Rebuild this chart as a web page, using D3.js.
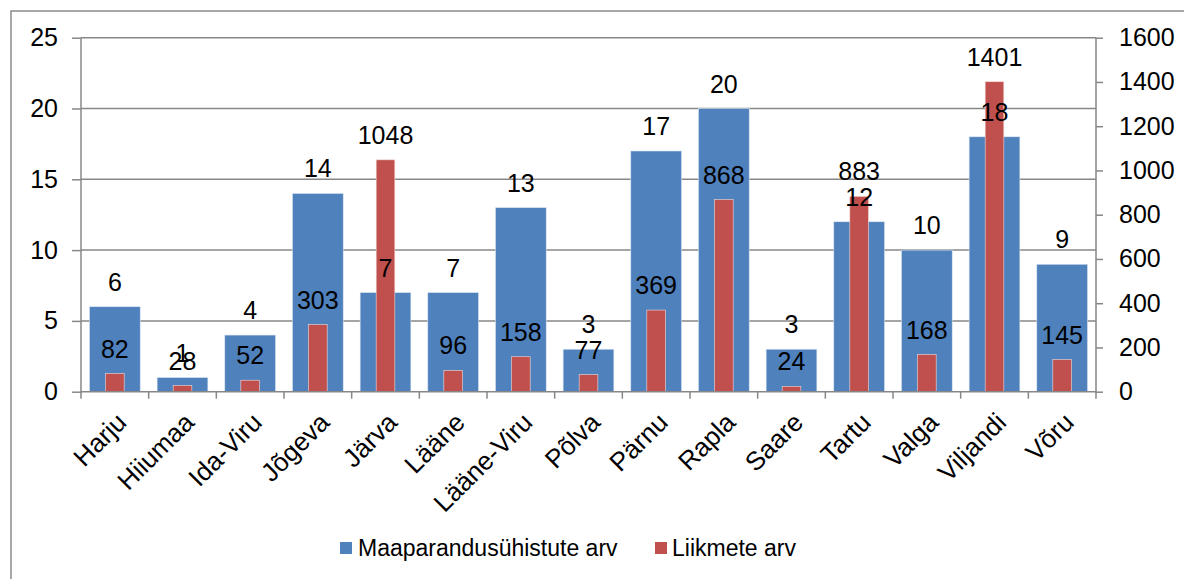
<!DOCTYPE html>
<html><head><meta charset="utf-8">
<script src="https://d3js.org/d3.v7.min.js"></script>
<style>html,body{margin:0;padding:0;background:#fff;}svg{display:block;font-family:"Liberation Sans",Arial,sans-serif;}</style>
</head><body>
<svg id="c" width="1184" height="579"></svg>
<script>
const categories = ["Harju","Hiiumaa","Ida-Viru","Jõgeva","Järva","Lääne","Lääne-Viru","Põlva","Pärnu","Rapla","Saare","Tartu","Valga","Viljandi","Võru"];
const unions = [6,1,4,14,7,7,13,3,17,20,3,12,10,18,9];
const members = [82,28,52,303,1048,96,158,77,369,868,24,883,168,1401,145];
const leftTicks = [0,5,10,15,20,25];
const rightTicks = [0,200,400,600,800,1000,1200,1400,1600];
const seriesNames = ["Maaparandusühistute arv","Liikmete arv"];
const colors = ["#4F81BD","#C0504D"];

const svg = d3.select("#c");
const X0=81, X1=1096, YT=37.7, YB=391.7;
const grey="#878787";
const fs=25;

// outer border
svg.append("path").attr("d",`M11,579 L11,11 L1184,11`).attr("fill","none").attr("stroke","#8c8c8c").attr("stroke-width",1.5);

const x = d3.scaleBand().domain(categories).range([X0,X1]).paddingInner(0.25).paddingOuter(0.125);
const yL = d3.scaleLinear().domain([0,25]).range([YB,YT]);
const yR = d3.scaleLinear().domain([0,1600]).range([YB,YT]);
const step = x.step();

// gridlines
svg.append("g").selectAll("line").data(leftTicks.filter(d=>d>0)).join("line")
  .attr("x1",X0).attr("x2",X1).attr("y1",d=>yL(d)).attr("y2",d=>yL(d))
  .attr("stroke",grey).attr("stroke-width",1.5);

// left axis
const gl = svg.append("g").attr("transform",`translate(${X0},0)`)
  .call(d3.axisLeft(yL).tickValues(leftTicks).tickSize(9).tickPadding(14).tickFormat(d3.format("d")));
gl.select(".domain").remove();
gl.selectAll(".tick line").attr("stroke",grey).attr("stroke-width",1.5);
gl.selectAll("text").attr("font-size",fs).attr("font-family","Liberation Sans, Arial, sans-serif").attr("fill","#000");
svg.append("line").attr("x1",X0).attr("x2",X0).attr("y1",YT).attr("y2",YB+1).attr("stroke",grey).attr("stroke-width",1.5);

// right axis
const gr = svg.append("g").attr("transform",`translate(${X1},0)`)
  .call(d3.axisRight(yR).tickValues(rightTicks).tickSize(7).tickPadding(16).tickFormat(d3.format("d")));
gr.select(".domain").remove();
gr.selectAll(".tick line").attr("stroke",grey).attr("stroke-width",1.5);
gr.selectAll("text").attr("font-size",fs).attr("font-family","Liberation Sans, Arial, sans-serif").attr("fill","#000");
svg.append("line").attr("x1",X1).attr("x2",X1).attr("y1",YT).attr("y2",YB+1).attr("stroke",grey).attr("stroke-width",1.5);

// bars
svg.append("g").selectAll("rect").data(unions).join("rect")
  .attr("x",(d,i)=>x(categories[i])).attr("width",x.bandwidth())
  .attr("y",d=>yL(d)).attr("height",d=>YB-yL(d))
  .attr("fill",colors[0]).attr("stroke","#dbe5f1").attr("stroke-width",0.6);
const rw = step*0.276;
svg.append("g").selectAll("rect").data(members).join("rect")
  .attr("x",(d,i)=>x(categories[i])+x.bandwidth()/2-rw/2).attr("width",rw)
  .attr("y",d=>yR(d)).attr("height",d=>YB-yR(d))
  .attr("fill",colors[1]).attr("stroke","#f2dcdb").attr("stroke-width",0.6);

// x axis line & ticks
svg.append("line").attr("x1",X0).attr("x2",X1).attr("y1",YB).attr("y2",YB).attr("stroke",grey).attr("stroke-width",1.5);
const bounds = d3.range(categories.length+1).map(i=>X0+i*(X1-X0)/categories.length);
svg.append("g").selectAll("line").data(bounds).join("line")
  .attr("x1",d=>d).attr("x2",d=>d).attr("y1",YB).attr("y2",YB+7).attr("stroke",grey).attr("stroke-width",1.5);

// data labels
const lab = svg.append("g").attr("font-size",fs).attr("text-anchor","middle").attr("fill","#000");
unions.forEach((d,i)=>{
  lab.append("text").attr("x",x(categories[i])+x.bandwidth()/2).attr("y",yL(d)-16).text(d);
});
members.forEach((d,i)=>{
  lab.append("text").attr("x",x(categories[i])+x.bandwidth()/2).attr("y",yR(d)-16).text(d);
});

// category labels
svg.append("g").selectAll("text").data(categories).join("text")
  .attr("transform",d=>`translate(${x(d)+x.bandwidth()/2},${YB+19}) rotate(-45)`)
  .attr("text-anchor","end").attr("dy","0.72em").attr("font-size",26).attr("fill","#000").text(d=>d);

// legend
const lg = svg.append("g");
const legX=[340,655], legT=[358,672];
seriesNames.forEach((n,i)=>{
  lg.append("rect").attr("x",legX[i]).attr("y",542).attr("width",12).attr("height",12).attr("fill",colors[i]);
  lg.append("text").attr("x",legT[i]).attr("y",556).attr("font-size",23).attr("fill","#000").text(n);
});
</script>
</body></html>
